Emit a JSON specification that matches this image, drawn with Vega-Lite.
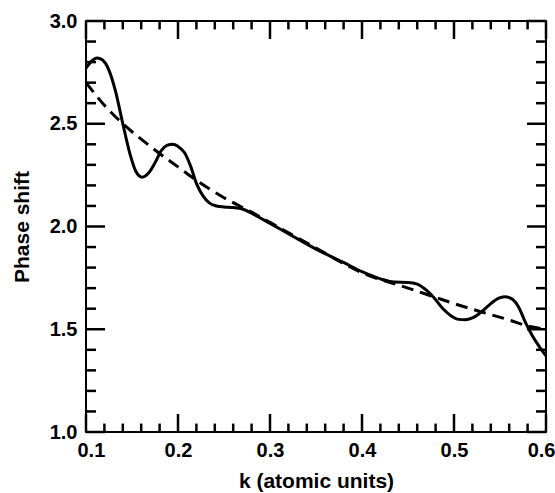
{
  "$schema": "https://vega.github.io/schema/vega-lite/v6.json",
  "width": 460,
  "height": 411,
  "autosize": {"type": "none"},
  "padding": {"left": 86, "top": 21, "right": 9, "bottom": 61},
  "background": "white",
  "config": {
    "view": {"stroke": "black", "strokeWidth": 2},
    "axis": {
      "grid": false,
      "domain": false,
      "ticks": false,
      "labelColor": "black",
      "labelFont": "Liberation Sans",
      "labelFontWeight": "bold",
      "labelFontSize": 20,
      "titleColor": "black",
      "titleFont": "Liberation Sans",
      "titleFontWeight": "bold",
      "titleFontSize": 21
    }
  },
  "datasets": {
    "solid": [
      {"k": 0.100, "v": 2.77}, {"k": 0.105, "v": 2.80}, {"k": 0.112, "v": 2.82}, {"k": 0.118, "v": 2.81},
      {"k": 0.125, "v": 2.76}, {"k": 0.132, "v": 2.66}, {"k": 0.140, "v": 2.50}, {"k": 0.148, "v": 2.35},
      {"k": 0.154, "v": 2.27}, {"k": 0.161, "v": 2.24}, {"k": 0.168, "v": 2.26}, {"k": 0.175, "v": 2.31},
      {"k": 0.182, "v": 2.37}, {"k": 0.188, "v": 2.395}, {"k": 0.194, "v": 2.40}, {"k": 0.200, "v": 2.39},
      {"k": 0.207, "v": 2.36}, {"k": 0.214, "v": 2.29}, {"k": 0.220, "v": 2.21}, {"k": 0.227, "v": 2.15},
      {"k": 0.234, "v": 2.115}, {"k": 0.242, "v": 2.10}, {"k": 0.250, "v": 2.095}, {"k": 0.260, "v": 2.092},
      {"k": 0.270, "v": 2.085}, {"k": 0.280, "v": 2.065}, {"k": 0.290, "v": 2.04}, {"k": 0.300, "v": 2.015},
      {"k": 0.320, "v": 1.965}, {"k": 0.350, "v": 1.89}, {"k": 0.380, "v": 1.825}, {"k": 0.400, "v": 1.78},
      {"k": 0.420, "v": 1.745}, {"k": 0.435, "v": 1.73}, {"k": 0.450, "v": 1.728}, {"k": 0.460, "v": 1.72},
      {"k": 0.470, "v": 1.69}, {"k": 0.478, "v": 1.655}, {"k": 0.488, "v": 1.60}, {"k": 0.497, "v": 1.565},
      {"k": 0.505, "v": 1.548}, {"k": 0.512, "v": 1.546}, {"k": 0.520, "v": 1.555}, {"k": 0.530, "v": 1.585},
      {"k": 0.540, "v": 1.625}, {"k": 0.548, "v": 1.65}, {"k": 0.555, "v": 1.658}, {"k": 0.562, "v": 1.65},
      {"k": 0.570, "v": 1.61}, {"k": 0.578, "v": 1.53}, {"k": 0.585, "v": 1.47}, {"k": 0.592, "v": 1.42},
      {"k": 0.600, "v": 1.37}
    ],
    "dashed": [
      {"k": 0.10, "v": 2.70}, {"k": 0.12, "v": 2.59}, {"k": 0.14, "v": 2.50}, {"k": 0.16, "v": 2.425},
      {"k": 0.18, "v": 2.355}, {"k": 0.20, "v": 2.29}, {"k": 0.22, "v": 2.225}, {"k": 0.25, "v": 2.14},
      {"k": 0.28, "v": 2.07}, {"k": 0.30, "v": 2.02}, {"k": 0.35, "v": 1.895}, {"k": 0.40, "v": 1.775},
      {"k": 0.45, "v": 1.70}, {"k": 0.48, "v": 1.655}, {"k": 0.50, "v": 1.625}, {"k": 0.53, "v": 1.584},
      {"k": 0.56, "v": 1.545}, {"k": 0.58, "v": 1.516}, {"k": 0.60, "v": 1.50}
    ],
    "xmajor": [{"k": 0.1}, {"k": 0.2}, {"k": 0.3}, {"k": 0.4}, {"k": 0.5}, {"k": 0.6}],
    "xminor": [
      {"k": 0.12}, {"k": 0.14}, {"k": 0.16}, {"k": 0.18}, {"k": 0.22}, {"k": 0.24}, {"k": 0.26}, {"k": 0.28},
      {"k": 0.32}, {"k": 0.34}, {"k": 0.36}, {"k": 0.38}, {"k": 0.42}, {"k": 0.44}, {"k": 0.46}, {"k": 0.48},
      {"k": 0.52}, {"k": 0.54}, {"k": 0.56}, {"k": 0.58}
    ],
    "ymajor": [{"v": 1.0}, {"v": 1.5}, {"v": 2.0}, {"v": 2.5}, {"v": 3.0}],
    "yminor": [
      {"v": 1.1}, {"v": 1.2}, {"v": 1.3}, {"v": 1.4}, {"v": 1.6}, {"v": 1.7}, {"v": 1.8}, {"v": 1.9},
      {"v": 2.1}, {"v": 2.2}, {"v": 2.3}, {"v": 2.4}, {"v": 2.6}, {"v": 2.7}, {"v": 2.8}, {"v": 2.9}
    ]
  },
  "resolve": {"axis": {"x": "independent", "y": "independent"}},
  "layer": [
    {
      "data": {"name": "solid"},
      "mark": {"type": "line", "color": "black", "strokeWidth": 3, "interpolate": "monotone", "clip": true},
      "encoding": {
        "x": {"field": "k", "type": "quantitative",
          "scale": {"domain": [0.1, 0.6], "nice": false, "zero": false},
          "axis": {"orient": "bottom", "values": [0.1, 0.2, 0.3, 0.4, 0.5, 0.6], "format": ".1f",
            "labelPadding": 8, "labelFlush": true, "labelFlushOffset": 9,
            "title": "k (atomic units)", "titlePadding": 10}},
        "y": {"field": "v", "type": "quantitative",
          "scale": {"domain": [1, 3], "nice": false, "zero": false},
          "axis": {"orient": "left", "values": [1, 1.5, 2, 2.5, 3], "format": ".1f",
            "labelPadding": 9, "title": "Phase shift", "titlePadding": 17}}
      }
    },
    {
      "data": {"name": "dashed"},
      "mark": {"type": "line", "color": "black", "strokeWidth": 3, "strokeDash": [12, 7], "interpolate": "monotone", "clip": true},
      "encoding": {
        "x": {"field": "k", "type": "quantitative", "scale": {"domain": [0.1, 0.6], "nice": false, "zero": false}, "axis": null},
        "y": {"field": "v", "type": "quantitative", "scale": {"domain": [1, 3], "nice": false, "zero": false}, "axis": null}
      }
    },
    {
      "data": {"name": "xmajor"},
      "mark": {"type": "rule", "color": "black", "strokeWidth": 2.5},
      "encoding": {
        "x": {"field": "k", "type": "quantitative", "scale": {"domain": [0.1, 0.6], "nice": false, "zero": false}, "axis": null},
        "y": {"datum": 1, "type": "quantitative", "scale": {"domain": [1, 3], "nice": false, "zero": false}, "axis": null},
        "y2": {"datum": 1.0876}
      }
    },
    {
      "data": {"name": "xminor"},
      "mark": {"type": "rule", "color": "black", "strokeWidth": 2.5},
      "encoding": {
        "x": {"field": "k", "type": "quantitative", "scale": {"domain": [0.1, 0.6], "nice": false, "zero": false}, "axis": null},
        "y": {"datum": 1, "type": "quantitative", "scale": {"domain": [1, 3], "nice": false, "zero": false}, "axis": null},
        "y2": {"datum": 1.041}
      }
    },
    {
      "data": {"name": "xmajor"},
      "mark": {"type": "rule", "color": "black", "strokeWidth": 2.5},
      "encoding": {
        "x": {"field": "k", "type": "quantitative", "scale": {"domain": [0.1, 0.6], "nice": false, "zero": false}, "axis": null},
        "y": {"datum": 3, "type": "quantitative", "scale": {"domain": [1, 3], "nice": false, "zero": false}, "axis": null},
        "y2": {"datum": 2.9124}
      }
    },
    {
      "data": {"name": "xminor"},
      "mark": {"type": "rule", "color": "black", "strokeWidth": 2.5},
      "encoding": {
        "x": {"field": "k", "type": "quantitative", "scale": {"domain": [0.1, 0.6], "nice": false, "zero": false}, "axis": null},
        "y": {"datum": 3, "type": "quantitative", "scale": {"domain": [1, 3], "nice": false, "zero": false}, "axis": null},
        "y2": {"datum": 2.959}
      }
    },
    {
      "data": {"name": "ymajor"},
      "mark": {"type": "rule", "color": "black", "strokeWidth": 2.5},
      "encoding": {
        "y": {"field": "v", "type": "quantitative", "scale": {"domain": [1, 3], "nice": false, "zero": false}, "axis": null},
        "x": {"datum": 0.1, "type": "quantitative", "scale": {"domain": [0.1, 0.6], "nice": false, "zero": false}, "axis": null},
        "x2": {"datum": 0.1207}
      }
    },
    {
      "data": {"name": "yminor"},
      "mark": {"type": "rule", "color": "black", "strokeWidth": 2.5},
      "encoding": {
        "y": {"field": "v", "type": "quantitative", "scale": {"domain": [1, 3], "nice": false, "zero": false}, "axis": null},
        "x": {"datum": 0.1, "type": "quantitative", "scale": {"domain": [0.1, 0.6], "nice": false, "zero": false}, "axis": null},
        "x2": {"datum": 0.1109}
      }
    },
    {
      "data": {"name": "ymajor"},
      "mark": {"type": "rule", "color": "black", "strokeWidth": 2.5},
      "encoding": {
        "y": {"field": "v", "type": "quantitative", "scale": {"domain": [1, 3], "nice": false, "zero": false}, "axis": null},
        "x": {"datum": 0.6, "type": "quantitative", "scale": {"domain": [0.1, 0.6], "nice": false, "zero": false}, "axis": null},
        "x2": {"datum": 0.5793}
      }
    },
    {
      "data": {"name": "yminor"},
      "mark": {"type": "rule", "color": "black", "strokeWidth": 2.5},
      "encoding": {
        "y": {"field": "v", "type": "quantitative", "scale": {"domain": [1, 3], "nice": false, "zero": false}, "axis": null},
        "x": {"datum": 0.6, "type": "quantitative", "scale": {"domain": [0.1, 0.6], "nice": false, "zero": false}, "axis": null},
        "x2": {"datum": 0.5891}
      }
    }
  ]
}
